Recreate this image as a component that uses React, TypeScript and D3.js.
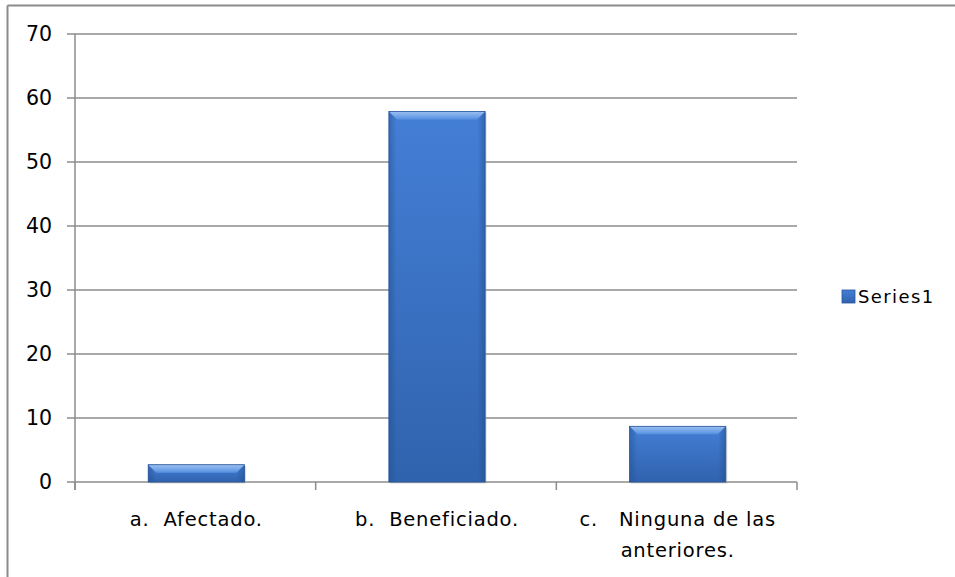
import React from "react";
import * as d3 from "d3";

const categories: string[][] = [["a.  Afectado."], ["b.  Beneficiado."], ["c.   Ninguna de las", "anteriores."]];
const values: number[] = [2.7, 57.9, 8.7];
const yTicks: number[] = [0, 10, 20, 30, 40, 50, 60, 70];
const seriesName = "Series1";

export default function App() {
  const W = 955, H = 577;
  const left = 75, right = 797, top = 34, bottom = 482;
  const x = d3.scaleBand<number>().domain(d3.range(values.length)).range([left, right]).paddingInner(0.6).paddingOuter(0.3);
  const y = d3.scaleLinear().domain([0, 70]).range([bottom, top]);
  const font = "'DejaVu Sans', Verdana, sans-serif";
  const bev = 8;
  return (
    <svg width={W} height={H} style={{ position: "absolute", left: 0, top: 0 }}>
      <defs>
        <linearGradient id="barv" x1="0" y1="0" x2="0" y2="1">
          <stop offset="0" stopColor="#447fd6" />
          <stop offset="1" stopColor="#3063ae" />
        </linearGradient>
        <linearGradient id="barTop" x1="0" y1="0" x2="0" y2="1">
          <stop offset="0" stopColor="#9cc0f2" />
          <stop offset="1" stopColor="#5590e0" />
        </linearGradient>
        <linearGradient id="barh" x1="0" y1="0" x2="1" y2="0">
          <stop offset="0" stopColor="#1f4a8a" stopOpacity="0.45" />
          <stop offset="0.08" stopColor="#1f4a8a" stopOpacity="0" />
          <stop offset="0.92" stopColor="#1f4a8a" stopOpacity="0" />
          <stop offset="1" stopColor="#1f4a8a" stopOpacity="0.5" />
        </linearGradient>
      </defs>
      <rect x={0} y={0} width={W} height={H} fill="#fff" />
      <line x1={7.5} y1={5.5} x2={W} y2={5.5} stroke="#8c8c8c" strokeWidth={2} />
      <line x1={7.5} y1={5.5} x2={7.5} y2={H} stroke="#8c8c8c" strokeWidth={2} />
      {yTicks.map((t) => (
        <g key={t}>
          <line x1={67} x2={right} y1={y(t)} y2={y(t)} stroke="#8c8c8c" strokeWidth={1.5} />
          <text x={52} y={y(t)} dy="0.36em" textAnchor="end" fontFamily={font} fontSize={20.5} fill="#000">{t}</text>
        </g>
      ))}
      <line x1={left} x2={left} y1={top} y2={bottom + 8} stroke="#8c8c8c" strokeWidth={1.5} />
      {d3.range(values.length + 1).map((i) => {
        const xx = left + ((right - left) / values.length) * i;
        return <line key={i} x1={xx} x2={xx} y1={bottom} y2={bottom + 8} stroke="#8c8c8c" strokeWidth={1.5} />;
      })}
      {values.map((v, i) => {
        const x0 = x(i)! + 1, bw = x.bandwidth(), y0 = y(v), h = bottom - y0;
        const b = Math.min(bev, h / 2);
        return (
          <g key={i}>
            <rect x={x0 + 1.5} y={y0 + 1.5} width={bw} height={h} fill="#999" opacity={0.35} />
            <rect x={x0} y={y0} width={bw} height={h} fill="url(#barv)" />
            <rect x={x0} y={y0} width={bw} height={h} fill="url(#barh)" />
            <polygon points={`${x0},${y0} ${x0 + bw},${y0} ${x0 + bw - b},${y0 + b} ${x0 + b},${y0 + b}`} fill="url(#barTop)" />
            <rect x={x0} y={y0} width={bw} height={h} fill="none" stroke="#2a5698" strokeWidth={0.8} />
          </g>
        );
      })}
      {categories.map((lines, i) => {
        const cx = x(i)! + x.bandwidth() / 2 + 1;
        return (
          <text key={i} textAnchor="middle" fontFamily={font} fontSize={19.5} letterSpacing={0.8} fill="#000">
            {lines.map((l, j) => (
              <tspan key={j} x={cx} y={526 + j * 31} style={{ whiteSpace: "pre" }}>{l}</tspan>
            ))}
          </text>
        );
      })}
      <rect x={842} y={290} width={13} height={13} fill="url(#barv)" stroke="#2a5698" strokeWidth={0.8} />
      <text x={858} y={297} dy="0.36em" fontFamily={font} fontSize={18} letterSpacing={1.4} fill="#000">{seriesName}</text>
    </svg>
  );
}
